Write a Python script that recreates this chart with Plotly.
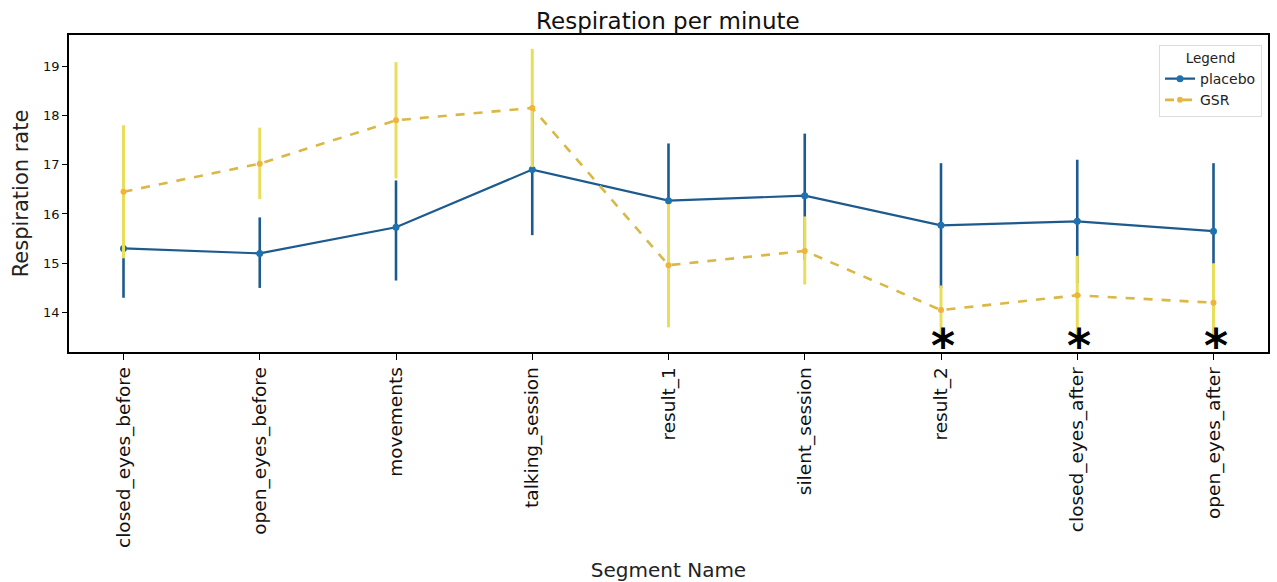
import plotly.graph_objects as go

# Segments of the recording session
segments = [
    "closed_eyes_before", "open_eyes_before", "movements", "talking_session",
    "result_1", "silent_session", "result_2", "closed_eyes_after", "open_eyes_after",
]

# Mean respiration rate with confidence interval bounds
placebo_mean = [15.30, 15.20, 15.73, 16.90, 16.27, 16.37, 15.77, 15.85, 15.65]
placebo_lo = [14.30, 14.50, 14.65, 15.57, 15.10, 15.07, 14.50, 14.60, 14.30]
placebo_hi = [16.30, 15.93, 16.68, 18.20, 17.43, 17.63, 17.03, 17.10, 17.03]

gsr_mean = [16.45, 17.02, 17.90, 18.15, 14.96, 15.25, 14.05, 14.35, 14.20]
gsr_lo = [15.10, 16.30, 16.72, 16.95, 13.70, 14.57, 13.55, 13.55, 13.40]
gsr_hi = [17.80, 17.75, 19.08, 19.35, 16.20, 15.95, 14.55, 15.15, 15.00]

# Segments with a significant group difference
significant = ["result_2", "closed_eyes_after", "open_eyes_after"]
star_level = 13.45

yticks = [14, 15, 16, 17, 18, 19]

BLUE = "#1d5a8e"
GOLD = "#d9b845"
GOLD_BAR = "#e8de5a"
FONT = "DejaVu Sans"

fig = go.Figure()

fig.add_trace(go.Scatter(
    x=segments, y=placebo_mean, name="placebo", mode="lines+markers",
    line=dict(color=BLUE, width=2.2),
    marker=dict(color="#1f72b0", size=7),
    error_y=dict(
        type="data", symmetric=False,
        array=[h - m for h, m in zip(placebo_hi, placebo_mean)],
        arrayminus=[m - l for l, m in zip(placebo_lo, placebo_mean)],
        color=BLUE, thickness=2.6, width=0,
    ),
))

fig.add_trace(go.Scatter(
    x=segments, y=gsr_mean, name="GSR", mode="lines+markers",
    line=dict(color=GOLD, width=2.6, dash="dash"),
    marker=dict(color="#f0b43c", size=6),
    error_y=dict(
        type="data", symmetric=False,
        array=[h - m for h, m in zip(gsr_hi, gsr_mean)],
        arrayminus=[m - l for l, m in zip(gsr_lo, gsr_mean)],
        color=GOLD_BAR, thickness=3, width=0,
    ),
))

for seg in significant:
    fig.add_annotation(
        x=seg, y=star_level, text="<b>*</b>", showarrow=False,
        font=dict(family=FONT, size=46, color="black"),
        xshift=2, yshift=-6,
    )

fig.update_layout(
    width=1277, height=582,
    margin=dict(l=69, r=9, t=35, b=230),
    paper_bgcolor="white", plot_bgcolor="white",
    font=dict(family=FONT, color="#222222"),
    title=dict(
        text="Respiration per minute", x=0.523, xanchor="center",
        y=0.964, yanchor="middle",
        font=dict(family=FONT, size=23, color="#111111"),
    ),
    legend=dict(
        title=dict(text="Legend", side="top center", font=dict(size=13.5)),
        x=0.995, y=0.97, xanchor="right", yanchor="top",
        bgcolor="rgba(255,255,255,0.85)", bordercolor="#dddddd", borderwidth=1,
        font=dict(family=FONT, size=14),
        itemwidth=30, tracegroupgap=0,
    ),
    showlegend=True,
)

fig.update_xaxes(
    type="category", range=[-0.4, 8.4], automargin=False,
    showgrid=False, zeroline=False,
    showline=True, linecolor="black", linewidth=1.5, mirror=True,
    ticks="outside", ticklen=6, tickcolor="black",
    tickangle=-90, tickfont=dict(family=FONT, size=18.5, color="#111111"),
    title=dict(text="Segment Name", font=dict(family=FONT, size=20), standoff=16),
)

fig.update_yaxes(
    range=[13.2, 19.63], tickvals=yticks, automargin=False,
    showgrid=False, zeroline=False,
    showline=True, linecolor="black", linewidth=1.5, mirror=True,
    ticks="outside", ticklen=5, tickcolor="black",
    tickfont=dict(family=FONT, size=13, color="#111111"),
    title=dict(text="Respiration rate", font=dict(family=FONT, size=21), standoff=9),
)

fig.write_html("out.html")
